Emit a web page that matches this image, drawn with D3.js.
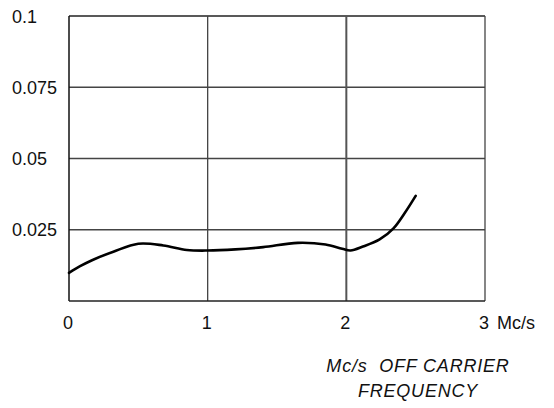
<!DOCTYPE html>
<html><head><meta charset="utf-8">
<script src="https://cdn.jsdelivr.net/npm/d3@7"></script>
<style>body{margin:0;background:#fff}svg{display:block}</style>
</head><body>
<svg id="c" width="554" height="408"></svg>
<script>
const xTicks = [0, 1, 2, 3];
const xTickLabels = ["0", "1", "2", "3"];
const yTicks = [0.025, 0.05, 0.075, 0.1];
const yTickLabels = ["0.025", "0.05", "0.075", "0.1"];
const freq = [0, 0.08, 0.17, 0.32, 0.5, 0.68, 0.85, 1.0, 1.2, 1.4, 1.65, 1.85, 1.97, 2.03, 2.12, 2.24, 2.34, 2.42, 2.5];
const level = [0.0099, 0.0122, 0.0144, 0.0173, 0.0201, 0.0195, 0.0179, 0.0177, 0.0181, 0.0189, 0.0204, 0.0198, 0.0183, 0.0177, 0.0191, 0.0216, 0.0255, 0.0308, 0.0369];
const xUnit = "Mc/s";
const xTitle = ["Mc/s  OFF CARRIER", "FREQUENCY"];

const svg = d3.select("#c");
const x = d3.scaleLinear().domain([0, 3]).range([69, 485]);
const y = d3.scaleLinear().domain([0, 0.1]).range([301, 16]);
const font = "'Liberation Sans', Arial, sans-serif";

// horizontal grid
svg.append("g").selectAll("line").data(yTicks).join("line")
  .attr("x1", x(0)).attr("x2", x(3))
  .attr("y1", d => y(d)).attr("y2", d => y(d))
  .attr("stroke", d => d === 0.1 ? "#222" : "#444").attr("stroke-width", 1.3);
// vertical grid
svg.append("g").selectAll("line").data(xTicks.slice(1)).join("line")
  .attr("x1", d => x(d)).attr("x2", d => x(d))
  .attr("y1", y(0)).attr("y2", y(0.1))
  .attr("stroke", d => d === 2 ? "#555" : "#444").attr("stroke-width", d => d === 2 ? 2 : 1.3);
// axes
svg.append("line").attr("x1", x(0)).attr("x2", x(0)).attr("y1", y(0)).attr("y2", y(0.1))
  .attr("stroke", "#111").attr("stroke-width", 1.5);
svg.append("line").attr("x1", x(0)).attr("x2", x(3)).attr("y1", y(0)).attr("y2", y(0))
  .attr("stroke", "#222").attr("stroke-width", 1.4);

// curve
const pts = freq.map((f, i) => [f, level[i]]);
svg.append("path").datum(pts)
  .attr("fill", "none").attr("stroke", "#000").attr("stroke-width", 2.6)
  .attr("stroke-linecap", "round")
  .attr("d", d3.line().x(d => x(d[0])).y(d => y(d[1])).curve(d3.curveCatmullRom.alpha(0.5)));

// y labels
svg.append("g").selectAll("text").data(yTicks).join("text")
  .attr("x", 12).attr("y", d => y(d) + 6.5)
  .attr("font-family", font).attr("font-size", 18).attr("fill", "#111")
  .text((d, i) => yTickLabels[i]);
// x labels
svg.append("g").selectAll("text").data(xTicks).join("text")
  .attr("x", d => x(d) - 1).attr("y", 329)
  .attr("text-anchor", "middle")
  .attr("font-family", font).attr("font-size", 18).attr("fill", "#111")
  .text((d, i) => xTickLabels[i]);
svg.append("text").attr("x", 497).attr("y", 329)
  .attr("font-family", font).attr("font-size", 18).attr("fill", "#111").text(xUnit);
// title
svg.append("g").selectAll("text").data(xTitle).join("text")
  .attr("x", 418).attr("y", (d, i) => 372 + i * 25)
  .attr("text-anchor", "middle")
  .attr("font-family", font).attr("font-style", "italic").attr("font-size", 18)
  .attr("letter-spacing", 0.8).attr("fill", "#111")
  .attr("xml:space", "preserve").style("white-space", "pre")
  .text(d => d);
</script>
</body></html>
